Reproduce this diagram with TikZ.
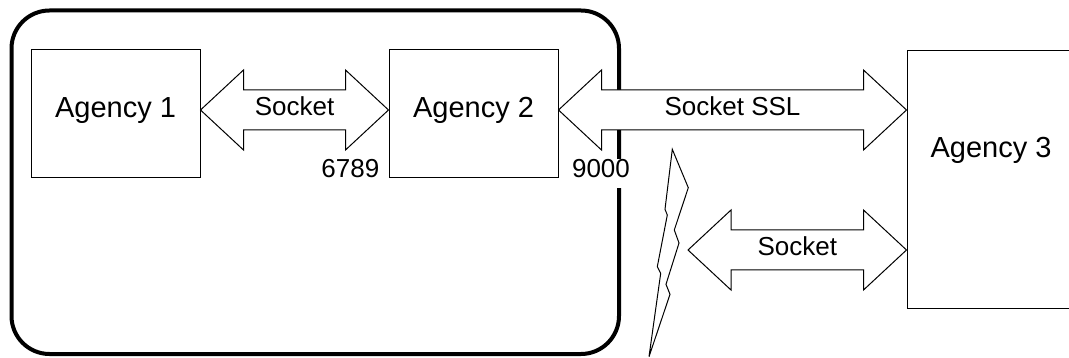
\documentclass[tikz,border=0pt]{standalone}
\usepackage{fontspec}
\setmainfont{Liberation Sans}
\usetikzlibrary{calc}
\newcommand\blockarrow[3]{%
  \draw[barrow] (#1) -- ++(43,-40) -- ++(0,20) -- ($(#2)+(-43,-20)$) -- ++(0,-20) -- (#2)
    -- ++(-43,40) -- ++(0,-20) -- ($(#1)+(43,20)$) -- ++(0,20) -- cycle;
  \node[lbl] at ($(#1)!0.5!(#2)+(0,2)$) {#3};}
\tikzset{
  agency/.style={draw, line width=1pt, minimum width=169pt, minimum height=128pt, inner sep=0pt,
    font=\fontsize{29}{34}\selectfont, text height=0.716em, text depth=0pt},
  barrow/.style={draw, fill=white, line width=1pt, line join=miter},
  lbl/.style={font=\fontsize{26}{31}\selectfont, text height=0.716em, text depth=0pt, inner sep=0pt},
  frame/.style={draw, line width=4pt, rounded corners=38pt},
  bolt/.style={draw, line width=1pt, line join=miter}
}
\begin{document}
\begin{tikzpicture}[x=1pt,y=-1pt]
\useasboundingbox (0,0) rectangle (1069,358);
\clip (0,0) rectangle (1069,358);
\fill[white] (0,0) rectangle (1069,358);
% outer frame
\draw[frame] (11.5,10.5) rectangle (619,354);
% agencies
\node[agency] (a1) at (115.5,114) {Agency 1};
\node[agency] (a2) at (473.5,114) {Agency 2};
\node[agency, minimum width=168pt, minimum height=258.3pt] (a3) at (991,179.2) {};
\node[font=\fontsize{29}{34}\selectfont, text height=0.716em, text depth=0pt, inner sep=0pt] (a3t) at ($(a3.center)+(0,-25)$) {Agency 3};
% arrows
\coordinate (s1l) at ($(a1.east)+(0,-4)$);
\coordinate (s1r) at (a2.west |- s1l);
\coordinate (s2l) at ($(a2.east)+(0,-4)$);
\coordinate (s2r) at (a3.west |- s2l);
\coordinate (s3l) at (688,250);
\coordinate (s3r) at (a3.west |- s3l);
\blockarrow{s1l}{s1r}{Socket}
\blockarrow{s2l}{s2r}{Socket SSL}
\blockarrow{s3l}{s3r}{Socket}
% port labels
\node[lbl, anchor=east] (p1) at ($(a2.south west)+(-9,-5)$) {6789};
\node[lbl, fill=white, inner xsep=1pt, inner ysep=11pt] (p2) at ($(a2.south east)+(42.5,-5)$) {9000};
% lightning
\draw[bolt] (672.3,149.3) -- (688.3,187.7) -- (674.3,230) -- (679,243) -- (666,284.3)
  -- (670,294.3) -- (649,356.7) -- (660.7,273.3) -- (657.3,266.7) -- (667.3,215)
  -- (665,209.3) -- cycle;
\end{tikzpicture}
\end{document}
